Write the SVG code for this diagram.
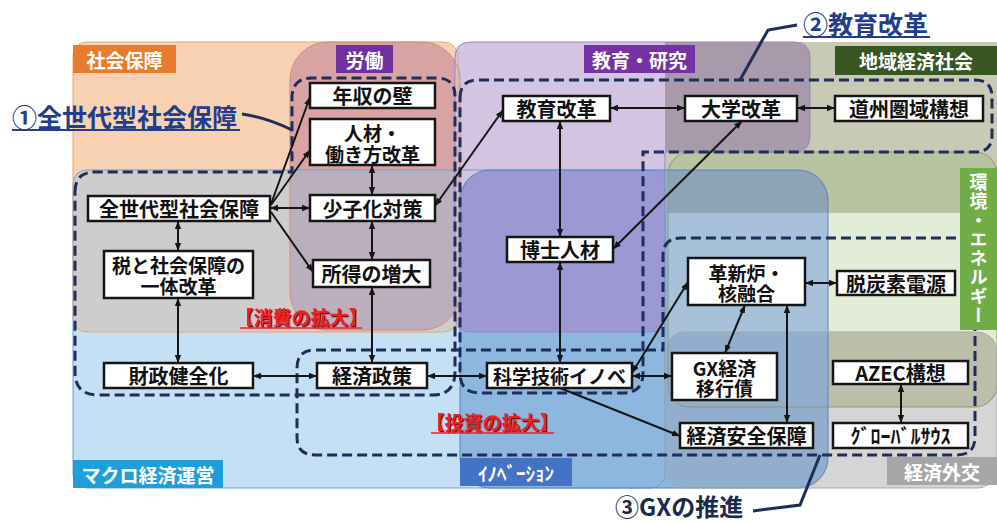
<svg xmlns="http://www.w3.org/2000/svg" width="997" height="523" viewBox="0 0 997 523">
<style>
.box{fill:#fff;stroke:#151515;stroke-width:2.5}
.t{font-family:"Noto Sans CJK JP","Noto Sans",sans-serif;font-weight:700;font-size:20px;fill:#111;text-anchor:middle;dominant-baseline:central}
.t2{font-size:19px}
.tag{font-family:"Noto Sans CJK JP","Noto Sans",sans-serif;font-weight:700;font-size:19px;fill:#fff;text-anchor:middle;dominant-baseline:central}
.grp{fill:none;stroke:#1f2d5a;stroke-width:3;stroke-dasharray:10 5}
.ptr{fill:none;stroke:#1f2d5a;stroke-width:3}
.con{fill:none;stroke:#151515;stroke-width:2}
.bi{marker-start:url(#ah);marker-end:url(#ah)}
.one{marker-end:url(#ah)}
.call{font-family:"Noto Sans CJK JP","Noto Sans",sans-serif;font-weight:700;font-size:25px;dominant-baseline:central}
.red{font-family:"Noto Sans CJK JP","Noto Sans",sans-serif;font-weight:700;font-size:19px;fill:#ee2222;text-anchor:middle;dominant-baseline:central}
.ol{fill:none;stroke-width:1}
</style>
<defs>
<marker id="ah" viewBox="0 0 10 10" refX="10" refY="5" markerWidth="8" markerHeight="8" markerUnits="userSpaceOnUse" orient="auto-start-reverse"><path d="M0,1 L10,5 L0,9 z" fill="#151515"/></marker>
<filter id="sh" x="-10%" y="-20%" width="120%" height="140%"><feDropShadow dx="1.3" dy="1.3" stdDeviation="0.3" flood-color="#7a1010"/></filter>
<path id="kyo" d="M471,42 L794,42 Q810,42 810,58 L810,136 Q810,152 794,152 L665,152 L665,316 Q665,332 649,332 L471,332 Q455,332 455,316 L455,58 Q455,42 471,42 Z"/>
<clipPath id="cSha"><rect x="73" y="42" width="385" height="290" rx="14"/></clipPath>
<clipPath id="cRou"><rect x="290" y="42" width="170" height="288" rx="38"/></clipPath>
<clipPath id="cKyo"><use href="#kyo"/></clipPath>
<clipPath id="cKan"><rect x="668" y="152" width="329" height="255" rx="22"/></clipPath>
<clipPath id="cIno"><rect x="460" y="170" width="368" height="318" rx="30"/></clipPath>
<clipPath id="cGai"><rect x="665" y="332" width="332" height="156" rx="20"/></clipPath>
</defs>

<g id="regions">
<rect x="73" y="170" width="592" height="318" rx="14" fill="#c5dff4"/>
<rect x="73" y="42" width="385" height="290" rx="14" fill="#f8d1b3"/>
<g clip-path="url(#cSha)"><rect x="73" y="170" width="592" height="318" rx="14" fill="#cfcccd"/></g>
<rect x="290" y="42" width="170" height="288" rx="38" fill="#d9a3a3"/>
<g clip-path="url(#cRou)"><rect x="73" y="170" width="592" height="318" rx="14" fill="#bcafbd"/></g>
<use href="#kyo" fill="#d3c4e1"/>
<rect x="665" y="42" width="332" height="171" fill="#c8cab5"/>
<g clip-path="url(#cKyo)"><rect x="665" y="42" width="332" height="171" fill="#a99aab"/></g>
<rect x="668" y="152" width="329" height="255" rx="22" fill="#e3ecd6"/>
<g clip-path="url(#cKan)"><rect x="665" y="42" width="332" height="171" fill="#b8c3a1"/></g>
<rect x="460" y="170" width="368" height="318" rx="30" fill="#8db7df"/>
<g clip-path="url(#cIno)"><use href="#kyo" fill="#9b98d3"/></g>
<g clip-path="url(#cIno)"><rect x="668" y="152" width="329" height="255" rx="22" fill="#a8c1da"/></g>
<g clip-path="url(#cIno)"><g clip-path="url(#cKan)"><rect x="665" y="42" width="332" height="171" fill="#8ea3b4"/></g></g>
<rect x="665" y="332" width="332" height="156" rx="20" fill="#d5d5d5"/>
<g clip-path="url(#cGai)"><rect x="668" y="152" width="329" height="255" rx="22" fill="#bbbea8"/></g>
<g clip-path="url(#cGai)"><rect x="460" y="170" width="368" height="318" rx="30" fill="#91afcd"/></g>
<rect class="ol" x="73" y="170" width="592" height="318" rx="14" stroke="#6a9fd4"/>
<rect class="ol" x="73" y="42" width="385" height="290" rx="14" stroke="#eea46c"/>
<rect class="ol" x="290" y="42" width="170" height="288" rx="38" stroke="#d08c78"/>
<use href="#kyo" class="ol" stroke="#9a86bf"/>
<rect class="ol" x="668" y="152" width="329" height="255" rx="22" stroke="#8a9a70"/>
<rect class="ol" x="460" y="170" width="368" height="318" rx="30" stroke="#5a80c8"/>
<rect class="ol" x="665" y="332" width="332" height="156" rx="20" stroke="#a8a8a8"/>
</g>

<g id="groups">
<path class="grp" d="M75,192 Q75,172 95,172 L292,172 L292,98 Q292,78 312,78 L437,78 Q455,78 455,96 L455,372 Q455,395 432,395 L98,395 Q75,395 75,372 Z"/>
<path class="grp" d="M460,98 Q460,80 478,80 L975,80 Q992,80 992,97 L992,135 Q992,152 975,152 L643,152 L643,373 Q643,393 623,393 L480,393 Q460,393 460,373 Z"/>
<path class="grp" d="M297,368 Q297,350 315,350 L663,350 L663,256 Q663,238 681,238 L957,238 Q975,238 975,256 L975,437 Q975,455 957,455 L315,455 Q297,455 297,437 Z"/>
</g>

<g id="tags">
<rect x="73" y="45" width="103" height="28" fill="#e97b2c"/><text class="tag" x="124.5" y="59">社会保障</text>
<rect x="336" y="45" width="57" height="28" fill="#7030a0"/><text class="tag" x="364.5" y="59">労働</text>
<rect x="584" y="45" width="111" height="28" fill="#7432a4"/><text class="tag" x="639.5" y="59">教育・研究</text>
<rect x="835" y="46" width="162" height="29" fill="#375623"/><text class="tag" x="916" y="60.5">地域経済社会</text>
<rect x="960" y="168" width="37" height="162" fill="#70ad47"/><text class="tag" x="978.5" y="249" style="writing-mode:vertical-rl;letter-spacing:1px;font-size:18px">環境・エネルギー</text>
<rect x="73" y="460" width="150" height="28" fill="#1f9fd9"/><text class="tag" x="148" y="474">マクロ経済運営</text>
<rect x="460" y="458" width="112" height="28" fill="#4472c4"/><text class="tag" x="516" y="472">ｲﾉﾍﾞｰｼｮﾝ</text>
<rect x="887" y="457" width="110" height="28" fill="#a6a6a6"/><text class="tag" x="942" y="471">経済外交</text>
</g>

<g id="callouts">
<path class="ptr" d="M242,114 Q268,118 292,130"/>
<text class="call" x="12" y="116" fill="#213d8c">①全世代型社会保障</text>
<line x1="12" y1="130" x2="240" y2="130" stroke="#213d8c" stroke-width="2"/>
<path class="ptr" d="M797,25 L768,30 L740,80"/>
<text class="call" x="803" y="23" fill="#213d8c">②教育改革</text>
<line x1="803" y1="37" x2="930" y2="37" stroke="#213d8c" stroke-width="2"/>
<path class="ptr" d="M753,511 L800,505 L820,455"/>
<text class="call" x="615" y="505" fill="#1c2a4e" style="font-size:24px">③GXの推進</text>
</g>

<g id="connectors">
<path class="con bi" d="M270,208 L310,208"/>
<path class="con one" d="M271,204 L310,97"/>
<path class="con one" d="M271,205 L310,150"/>
<path class="con one" d="M271,212 L313,272"/>
<path class="con bi" d="M372,165 L372,195"/>
<path class="con bi" d="M372,221 L372,260"/>
<path class="con bi" d="M372,287 L372,363"/>
<path class="con bi" d="M178,221 L178,251"/>
<path class="con bi" d="M178,298 L178,363"/>
<path class="con bi" d="M253,376 L317,376"/>
<path class="con bi" d="M427,376 L487,376"/>
<path class="con bi" d="M435,206 L503,110"/>
<path class="con bi" d="M610,108 L685,108"/>
<path class="con bi" d="M797,108 L835,108"/>
<path class="con bi" d="M560,121 L560,237"/>
<path class="con bi" d="M742,121 L613,249"/>
<path class="con bi" d="M560,262 L560,363"/>
<path class="con bi" d="M632,373 L688,282"/>
<path class="con bi" d="M632,376 L672,376"/>
<path class="con one" d="M560,388 L680,436"/>
<path class="con bi" d="M745,305 L725,353"/>
<path class="con bi" d="M787,305 L787,423"/>
<path class="con bi" d="M805,283 L837,283"/>
<path class="con bi" d="M901,384 L901,423"/>
</g>

<g id="n1"><rect class="box" x="310" y="83" width="125" height="25"/><text class="t" x="372.5" y="95.5">年収の壁</text></g>
<g id="n2"><rect class="box" x="310" y="119" width="125" height="46"/><text class="t t2" x="372.5" y="132">人材・<tspan x="372.5" dy="21">働き方改革</tspan></text></g>
<g id="n3"><rect class="box" x="88" y="196" width="182" height="25"/><text class="t" x="179" y="208.5">全世代型社会保障</text></g>
<g id="n4"><rect class="box" x="310" y="195" width="125" height="26"/><text class="t" x="372.5" y="208">少子化対策</text></g>
<g id="n5"><rect class="box" x="104" y="251" width="149" height="47"/><text class="t t2" x="178.5" y="264">税と社会保障の<tspan x="178.5" dy="21">一体改革</tspan></text></g>
<g id="n6"><rect class="box" x="313" y="260" width="117" height="27"/><text class="t" x="371.5" y="273.5">所得の増大</text></g>
<g id="n7"><rect class="box" x="104" y="363" width="149" height="25"/><text class="t" x="178.5" y="375.5">財政健全化</text></g>
<g id="n8"><rect class="box" x="317" y="363" width="110" height="25"/><text class="t" x="372" y="375.5">経済政策</text></g>
<g id="n9"><rect class="box" x="503" y="96" width="107" height="25"/><text class="t" x="556.5" y="108.5">教育改革</text></g>
<g id="n10"><rect class="box" x="685" y="96" width="112" height="25"/><text class="t" x="741" y="108.5">大学改革</text></g>
<g id="n11"><rect class="box" x="835" y="96" width="148" height="25"/><text class="t" x="909" y="108.5">道州圏域構想</text></g>
<g id="n12"><rect class="box" x="507" y="237" width="106" height="25"/><text class="t" x="560" y="249.5">博士人材</text></g>
<g id="n13"><rect class="box" x="688" y="258" width="117" height="47"/><text class="t t2" x="746.5" y="272">革新炉・<tspan x="746.5" dy="20">核融合</tspan></text></g>
<g id="n14"><rect class="box" x="837" y="271" width="118" height="24"/><text class="t" x="896" y="283">脱炭素電源</text></g>
<g id="n15"><rect class="box" x="487" y="363" width="145" height="25"/><text class="t t2" x="559.5" y="375.5">科学技術イノベ</text></g>
<g id="n16"><rect class="box" x="672" y="353" width="105" height="47"/><text class="t t2" x="724.5" y="367">GX経済<tspan x="724.5" dy="20">移行債</tspan></text></g>
<g id="n17"><rect class="box" x="833" y="361" width="135" height="23"/><text class="t" x="900.5" y="372.5">AZEC構想</text></g>
<g id="n18"><rect class="box" x="680" y="423" width="133" height="25"/><text class="t" x="746.5" y="435.5">経済安全保障</text></g>
<g id="n19"><rect class="box" x="833" y="423" width="135" height="25"/><text class="t" x="900.5" y="435.5">ｸﾞﾛｰﾊﾞﾙｻｳｽ</text></g>

<g id="labels">
<text class="red" x="301" y="316" filter="url(#sh)">【消費の拡大】</text>
<line x1="240" y1="328" x2="362" y2="328" stroke="#ee2222" stroke-width="1.5"/>
<text class="red" x="492" y="421" filter="url(#sh)">【投資の拡大】</text>
<line x1="431" y1="433" x2="554" y2="433" stroke="#ee2222" stroke-width="1.5"/>
</g>
</svg>
